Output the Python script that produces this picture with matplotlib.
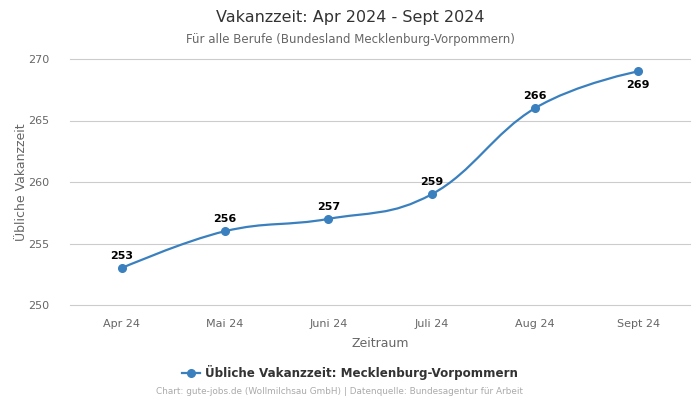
import matplotlib
matplotlib.use("Agg")
import matplotlib.pyplot as plt
from matplotlib.path import Path
from matplotlib.patches import PathPatch
from matplotlib.lines import Line2D

categories = ["Apr 24", "Mai 24", "Juni 24", "Juli 24", "Aug 24", "Sept 24"]
values = [253, 256, 257, 259, 266, 269]
title = "Vakanzzeit: Apr 2024 - Sept 2024"
subtitle = "Für alle Berufe (Bundesland Mecklenburg-Vorpommern)"
series_name = "Übliche Vakanzzeit: Mecklenburg-Vorpommern"
footer = "Chart: gute-jobs.de (Wollmilchsau GmbH) | Datenquelle: Bundesagentur für Arbeit"

color = "#3a80bf"

fig = plt.figure(figsize=(7, 4), dpi=100)
ax = fig.add_axes([0.1, 0.2375, 0.8857, 0.615])

xs = list(range(len(values)))
ys = values

# Highcharts-like spline through the data points
def controls(i):
    if i == 0 or i == len(xs) - 1:
        return None
    sm, dn = 1.5, 2.5
    px, py = xs[i], ys[i]
    lx, ly = xs[i - 1], ys[i - 1]
    nx, ny = xs[i + 1], ys[i + 1]
    lcx = (sm * px + lx) / dn
    lcy = (sm * py + ly) / dn
    rcx = (sm * px + nx) / dn
    rcy = (sm * py + ny) / dn
    corr = ((rcy - lcy) * (rcx - px)) / (rcx - lcx) + py - rcy
    lcy += corr
    rcy += corr
    if lcy > ly and lcy > py:
        lcy = max(ly, py); rcy = 2 * py - lcy
    elif lcy < ly and lcy < py:
        lcy = min(ly, py); rcy = 2 * py - lcy
    if rcy > ny and rcy > py:
        rcy = max(ny, py); lcy = 2 * py - rcy
    elif rcy < ny and rcy < py:
        rcy = min(ny, py); lcy = 2 * py - rcy
    return (lcx, lcy), (rcx, rcy)

verts = [(xs[0], ys[0])]
codes = [Path.MOVETO]
ctrl = [controls(i) for i in range(len(xs))]
for i in range(1, len(xs)):
    prev = ctrl[i - 1]
    cur = ctrl[i]
    c1 = prev[1] if prev else (xs[i - 1], ys[i - 1])
    c2 = cur[0] if cur else (xs[i], ys[i])
    verts += [c1, c2, (xs[i], ys[i])]
    codes += [Path.CURVE4] * 3
ax.add_patch(PathPatch(Path(verts, codes), facecolor="none", edgecolor=color, lw=1.6, zorder=3))
ax.plot(xs, ys, "o", color=color, ms=5.5, zorder=4)

for i, v in enumerate(values):
    if i == len(values) - 1:
        ax.annotate(str(v), (xs[i], v), xytext=(0, -6), textcoords="offset points",
                    ha="center", va="top", fontsize=8, fontweight="bold", color="black")
    else:
        ax.annotate(str(v), (xs[i], v), xytext=(0, 5), textcoords="offset points",
                    ha="center", va="bottom", fontsize=8, fontweight="bold", color="black")

ax.set_xlim(-0.5, len(values) - 0.5)
ax.set_ylim(250, 270)
ax.set_yticks([250, 255, 260, 265, 270])
ax.set_xticks(xs)
ax.set_xticklabels(categories)
ax.grid(axis="y", color="#cccccc", lw=0.8)
for gl in ax.get_ygridlines():
    gl.set_clip_on(False)
ax.set_axisbelow(True)
for s in ax.spines.values():
    s.set_visible(False)
ax.tick_params(axis="both", length=0, labelsize=8, colors="#666666")
ax.tick_params(axis="x", pad=10)
ax.tick_params(axis="y", pad=15)
ax.set_xlabel("Zeitraum", fontsize=9, color="#666666", labelpad=6)
ax.set_ylabel("Übliche Vakanzzeit", fontsize=9, color="#666666", labelpad=0)

fig.text(0.5, 0.957, title, ha="center", va="center", fontsize=11.5, color="#333333")
fig.text(0.5, 0.902, subtitle, ha="center", va="center", fontsize=8.5, color="#666666")

handle = Line2D([], [], color=color, marker="o", ms=5.5, lw=1.6)
fig.legend([handle], [series_name], loc="center", bbox_to_anchor=(0.5, 0.068),
           frameon=False, prop={"weight": "bold", "size": 8.6}, labelcolor="#333333",
           handlelength=1.5, handletextpad=0.4)
fig.text(0.485, 0.02, footer, ha="center", va="center", fontsize=6.4, color="#aaaaaa")

fig.savefig("out.png", dpi=100)
